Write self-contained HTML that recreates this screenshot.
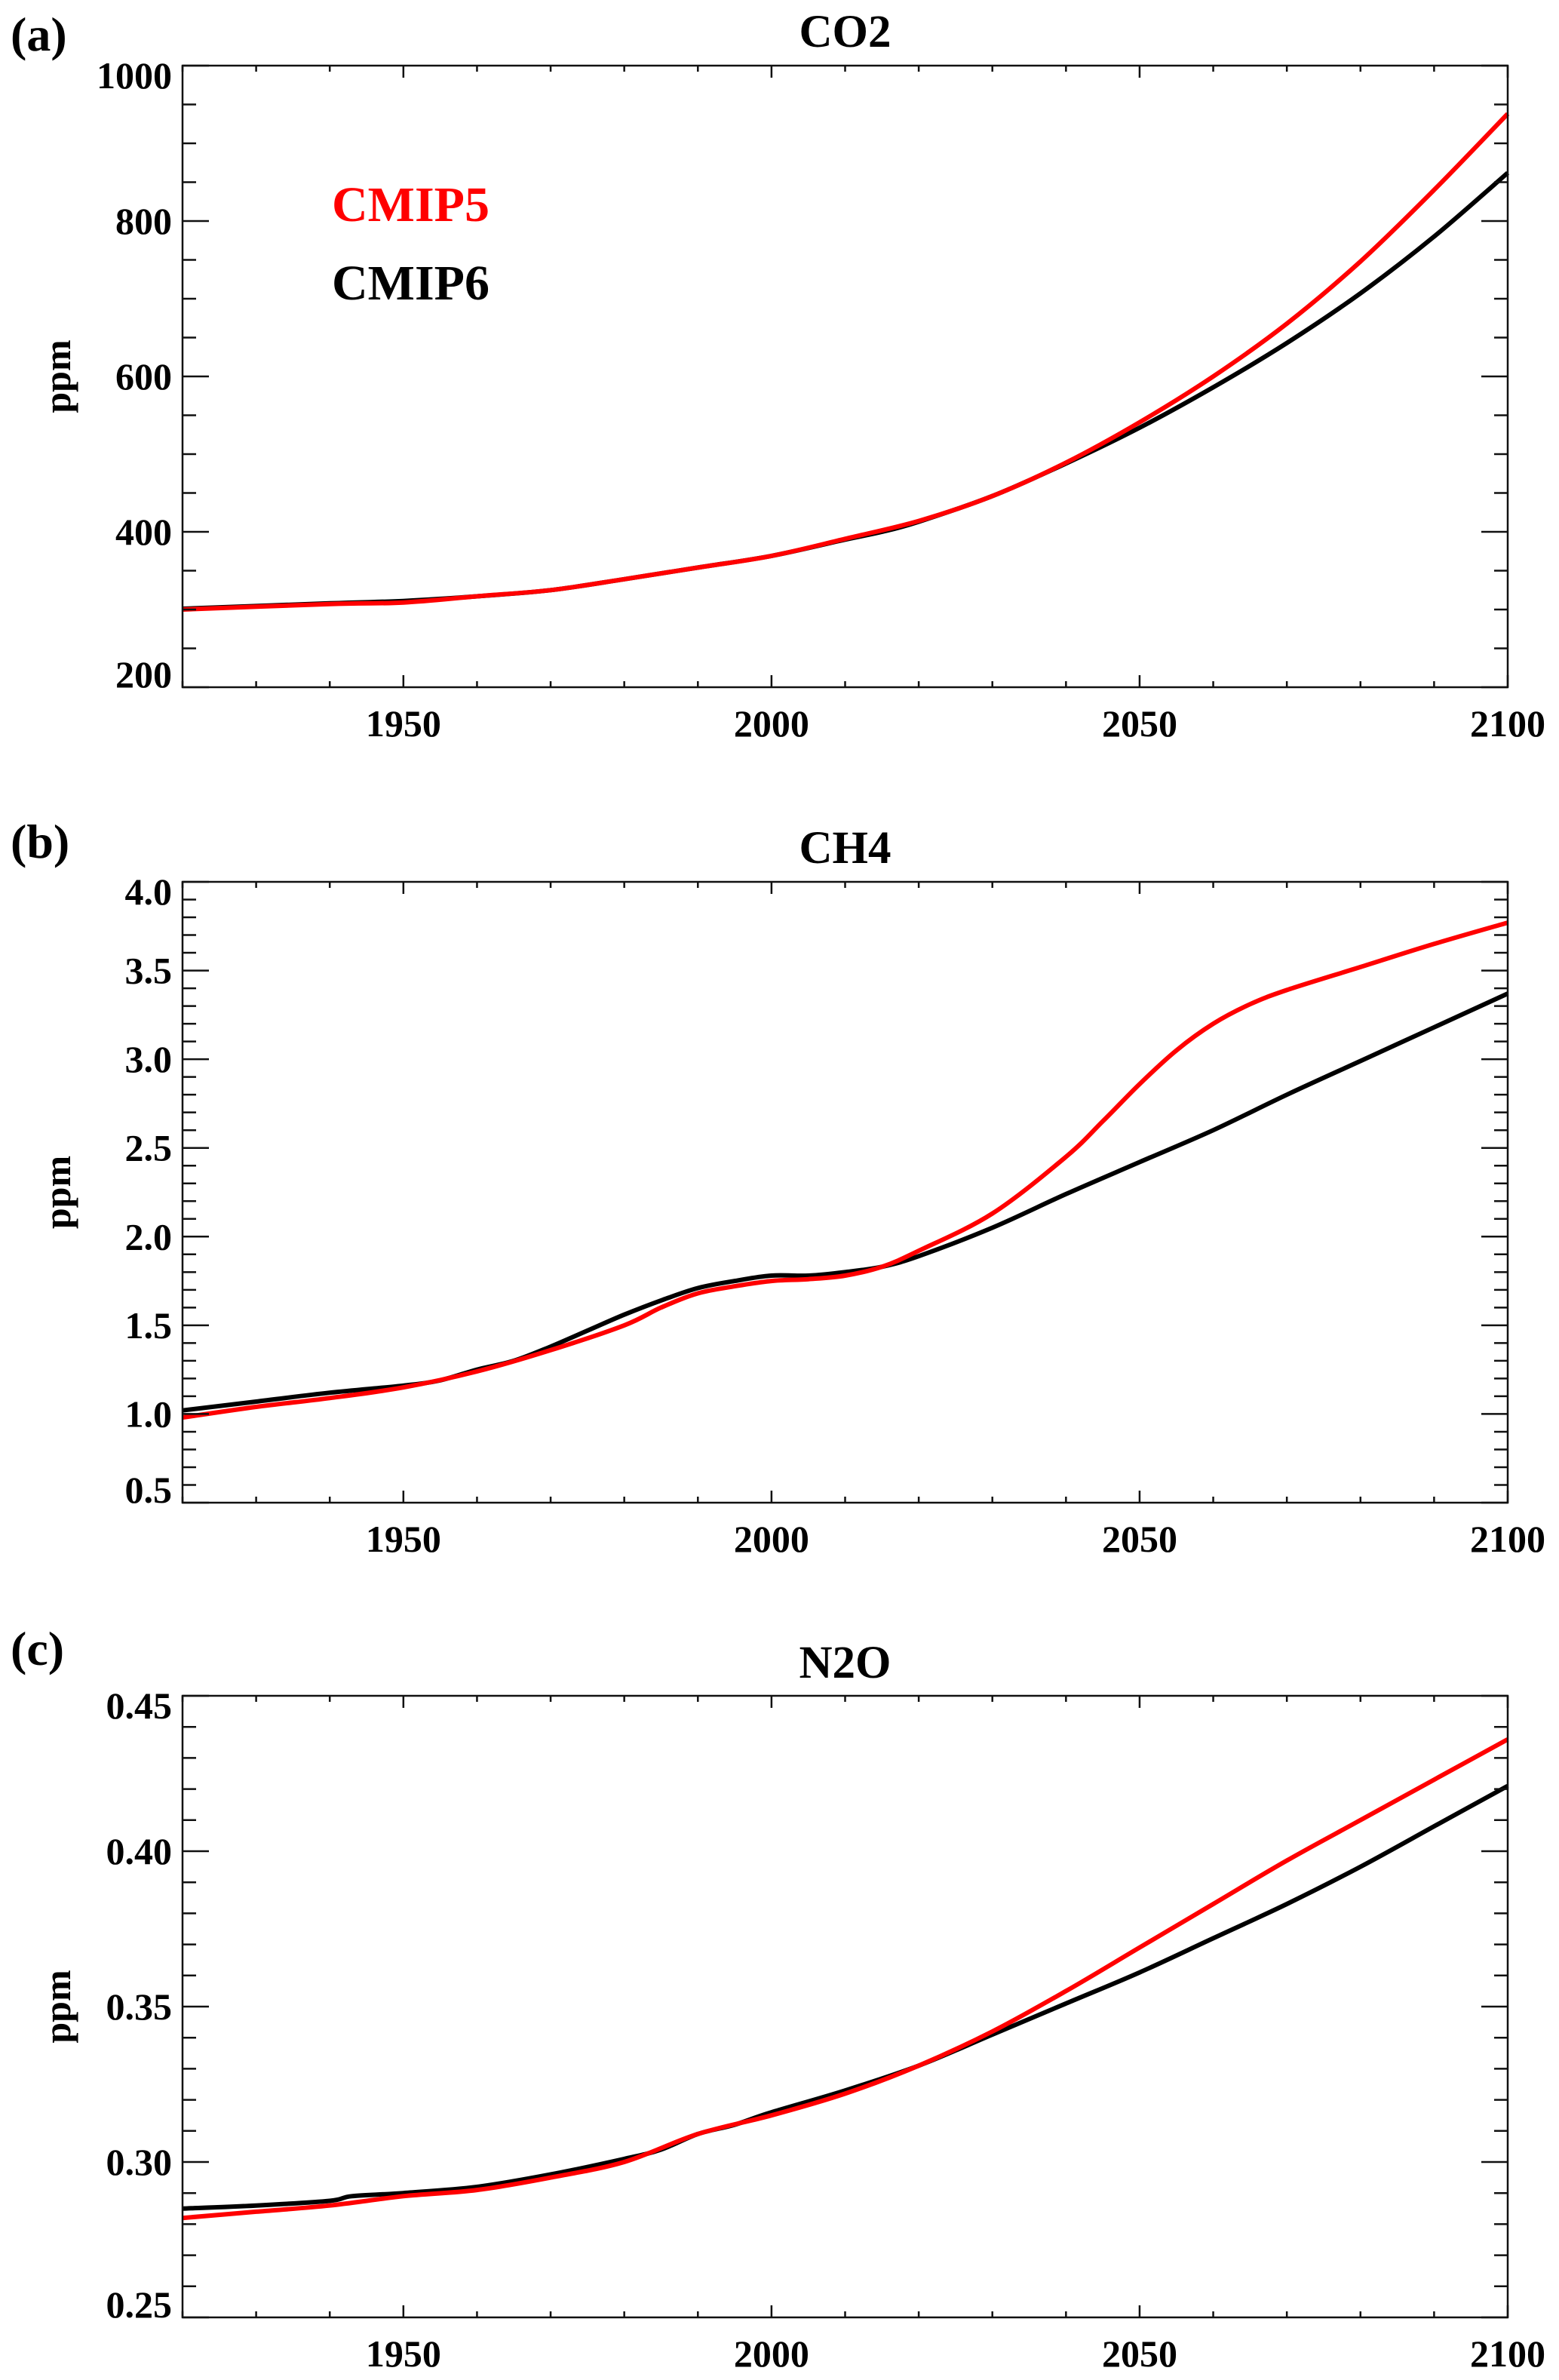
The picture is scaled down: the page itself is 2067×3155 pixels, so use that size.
<!DOCTYPE html>
<html><head><meta charset="utf-8"><style>
html,body{margin:0;padding:0;background:#fff;}
svg{display:block;}
text{font-family:"Liberation Serif","Times New Roman",serif;font-weight:bold;}
</style></head><body>
<svg id="fig" width="2067" height="3155" viewBox="0 0 2067 3155" xmlns="http://www.w3.org/2000/svg"></svg>
<script>
// ---- data ----
const co2Years6 = [1920,1940,1950,1960,1970,1980,1990,2000,2010,2015,2020,2030,2040,2050,2060,2070,2080,2090,2100];
const co2Cmip6  = [301,308,311,317,325,339,354,369,390,400,413,446,488,534,586,643,707,780,862];
const co2Years5 = [1920,1940,1950,1960,1970,1980,1990,2000,2010,2020,2030,2040,2050,2060,2070,2080,2090,2100];
const co2Cmip5  = [300,307,309,317,325,339,354,369,391,414,446,489,541,600,668,748,840,938];

const ch4Years6 = [1920,1930,1940,1950,1955,1960,1965,1970,1975,1980,1985,1990,1995,2000,2005,2010,2015,2020,2030,2040,2050,2060,2070,2080,2090,2100];
const ch4Cmip6  = [1.02,1.07,1.12,1.16,1.19,1.25,1.30,1.38,1.47,1.56,1.64,1.71,1.75,1.78,1.78,1.80,1.83,1.89,2.05,2.24,2.42,2.60,2.80,2.99,3.18,3.37];
const ch4Years5 = [1920,1930,1940,1950,1960,1970,1980,1985,1990,1995,2000,2005,2010,2015,2020,2030,2040,2045,2050,2055,2060,2065,2070,2080,2090,2100];
const ch4Cmip5  = [0.98,1.04,1.09,1.15,1.24,1.36,1.50,1.60,1.68,1.72,1.75,1.76,1.78,1.83,1.92,2.13,2.45,2.65,2.86,3.05,3.20,3.31,3.39,3.52,3.65,3.77];

const n2oYears6 = [1920,1930,1940,1943,1950,1960,1970,1980,1985,1990,1995,2000,2010,2020,2030,2040,2050,2060,2070,2080,2090,2100];
const n2oCmip6  = [0.285,0.286,0.2875,0.289,0.290,0.292,0.296,0.301,0.304,0.309,0.312,0.316,0.323,0.331,0.341,0.351,0.361,0.372,0.383,0.395,0.408,0.421];
const n2oYears5 = [1920,1930,1940,1950,1960,1970,1980,1990,2000,2010,2020,2030,2040,2050,2060,2070,2080,2090,2100];
const n2oCmip5  = [0.282,0.284,0.286,0.289,0.291,0.295,0.300,0.309,0.315,0.322,0.331,0.342,0.355,0.369,0.383,0.397,0.410,0.423,0.436];

const xTickLabels = ["1950","2000","2050","2100"];
const co2TickLabels = ["200","400","600","800","1000"];
const ch4TickLabels = ["0.5","1.0","1.5","2.0","2.5","3.0","3.5","4.0"];
const n2oTickLabels = ["0.25","0.30","0.35","0.40","0.45"];

const NS="http://www.w3.org/2000/svg";
const svg=document.getElementById('fig');
const FF='Liberation Serif, Times New Roman, serif';
function mk(tag,attrs,parent){const e=document.createElementNS(NS,tag);for(const k in attrs)e.setAttribute(k,attrs[k]);if(tag==='text'){e.setAttribute('font-family',FF);e.setAttribute('font-weight','bold');}(parent||svg).appendChild(e);return e;}

const L=242,R=1999;
const X0=1920,X1=2100;
function xs(v){return L+(v-X0)/(X1-X0)*(R-L);}

function smoothPath(P){
  let d='M'+P[0][0].toFixed(1)+','+P[0][1].toFixed(1);
  for(let i=0;i<P.length-1;i++){
    const p0=P[i-1]||P[i],p1=P[i],p2=P[i+1],p3=P[i+2]||P[i+1];
    const c1=[p1[0]+(p2[0]-p0[0])/6,p1[1]+(p2[1]-p0[1])/6];
    const c2=[p2[0]-(p3[0]-p1[0])/6,p2[1]-(p3[1]-p1[1])/6];
    d+=' C'+c1[0].toFixed(1)+','+c1[1].toFixed(1)+' '+c2[0].toFixed(1)+','+c2[1].toFixed(1)+' '+p2[0].toFixed(1)+','+p2[1].toFixed(1);
  }
  return d;
}

function panel(cfg){
  const g=mk('g',{});
  
  
  const T=cfg.top,B=cfg.bottom;
  const ys=v=>B-(v-cfg.ymin)/(cfg.ymax-cfg.ymin)*(B-T);
  const series=[[cfg.x6,cfg.y6,'#000','cmip6-line'],[cfg.x5,cfg.y5,'#f00','cmip5-line']];
  series.forEach(([xa,ya,col,nm])=>{
    const P=xa.map((yr,i)=>[xs(yr),ys(ya[i])]);
    const p=mk('path',{d:smoothPath(P),fill:'none',stroke:col,'stroke-width':6,'stroke-linejoin':'round'},g);
    
    
  });
  const fr=mk('rect',{x:L,y:T,width:R-L,height:B-T,fill:'none',stroke:'#111','stroke-width':2.5},g);
  
  
  for(let yr=X0;yr<=X1;yr+=10){
    const x=xs(yr);const major=(yr%50===0);const len=major?16:8;
    const t1=mk('line',{x1:x,y1:B,x2:x,y2:B-len,stroke:'#111','stroke-width':2.5},g);
    
    
    const t2=mk('line',{x1:x,y1:T,x2:x,y2:T+len,stroke:'#111','stroke-width':2.5},g);
    
    
  }
  xTickLabels.forEach(s=>{
    const x=xs(parseFloat(s));
    const t=mk('text',{x:x,y:B+65,'font-size':50,'text-anchor':'middle',fill:'#000'},g);
    t.textContent=s;
    
    
  });
  const n=Math.round((cfg.ymax-cfg.ymin)/cfg.minor);
  for(let i=0;i<=n;i++){
    const v=cfg.ymin+i*cfg.minor;const y=ys(v);
    const major=(i%cfg.perMajor===0);const len=major?35:18;
    const t1=mk('line',{x1:L,y1:y,x2:L+len,y2:y,stroke:'#111','stroke-width':2.5},g);
    
    
    const t2=mk('line',{x1:R,y1:y,x2:R-len,y2:y,stroke:'#111','stroke-width':2.5},g);
    
    
  }
  cfg.labels.forEach((s,i)=>{
    const v=parseFloat(s);let y=ys(v)+17;
    if(i===cfg.labels.length-1) y+=13;
    if(i===0) y-=17;
    const t=mk('text',{x:228,y:y,'font-size':50,'text-anchor':'end',fill:'#000'},g);
    t.textContent=s;
    
    
  });
  const cy=(T+B)/2;
  const yt=mk('text',{x:0,y:0,'font-size':50,'text-anchor':'middle',fill:'#000',transform:`translate(93,${cy}) rotate(-90)`},g);
  yt.textContent='ppm';
  
  
  const tt=mk('text',{x:(L+R)/2,y:cfg.titleY,'font-size':61,'text-anchor':'middle',fill:'#000'},g);
  tt.textContent=cfg.title;
  
  
  const pl=mk('text',{x:14,y:cfg.labelY,'font-size':64,fill:'#000'},g);
  pl.textContent=cfg.plabel;
  
  
  return g;
}

panel({name:'co2-panel',top:87,bottom:911,ymin:200,ymax:1000,minor:50,perMajor:4,labels:co2TickLabels,title:'CO2',titleY:62,plabel:'(a)',labelY:67,x6:co2Years6,y6:co2Cmip6,x5:co2Years5,y5:co2Cmip5});
panel({name:'ch4-panel',top:1169,bottom:1992,ymin:0.5,ymax:4.0,minor:0.1,perMajor:5,labels:ch4TickLabels,title:'CH4',titleY:1144,plabel:'(b)',labelY:1137,x6:ch4Years6,y6:ch4Cmip6,x5:ch4Years5,y5:ch4Cmip5});
panel({name:'n2o-panel',top:2248,bottom:3072,ymin:0.25,ymax:0.45,minor:0.01,perMajor:5,labels:n2oTickLabels,title:'N2O',titleY:2224,plabel:'(c)',labelY:2207,x6:n2oYears6,y6:n2oCmip6,x5:n2oYears5,y5:n2oCmip5});

const l5=mk('text',{x:440,y:293,'font-size':66,fill:'#f00'});
l5.textContent='CMIP5';


const l6=mk('text',{x:440,y:397,'font-size':66,fill:'#000'});
l6.textContent='CMIP6';


</script>
</body></html>
